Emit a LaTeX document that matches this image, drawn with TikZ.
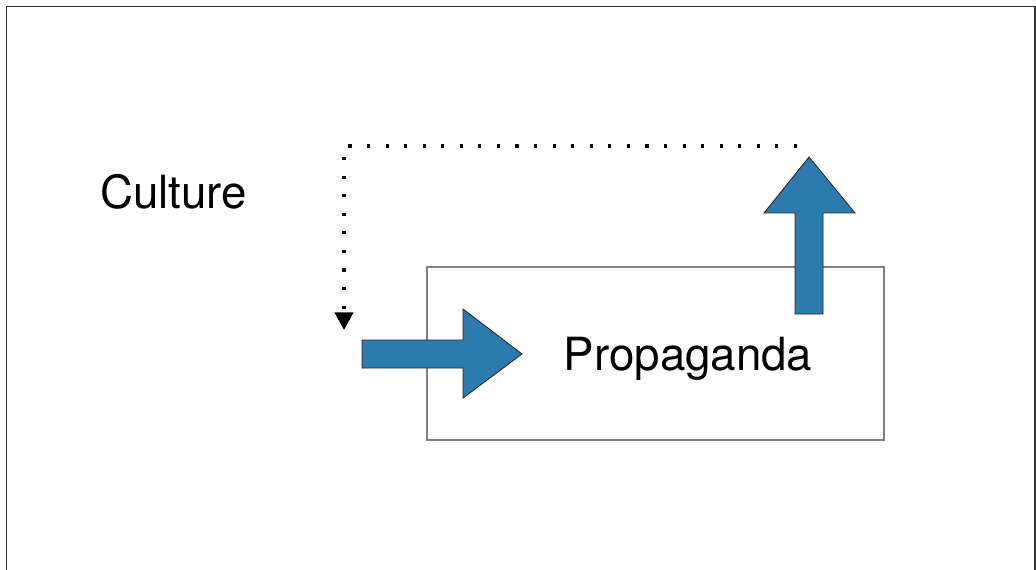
\documentclass[tikz,border=0pt]{standalone}
\usepackage{fontspec}
\setmainfont{TeX Gyre Heros}
\usetikzlibrary{arrows.meta}
\definecolor{arrowblue}{RGB}{45,122,175}
\begin{document}
\begin{tikzpicture}[x=0.025cm, y=-0.025cm,
	bigarrow/.style={fill=arrowblue, draw=black!85, line width=0.6pt, line join=miter},
	loopline/.style={line width=2.2pt, line cap=butt, dash pattern=on 2.2pt off 11pt, -{Triangle[length=12.5pt, width=13pt]}},
	word/.style={font=\fontsize{32.5pt}{38pt}\selectfont, inner sep=0pt, anchor=base}]
	\useasboundingbox (0,0) rectangle (1036,570);
	% frame
	\draw[black!80, line width=1.4pt] (6.5,570) -- (6.5,6.5) -- (1035,6.5) -- (1035,570);
	\node (culture) at (173.5, 208)	[word]	{Culture};
	\node (box) at (655.5, 353.5)	[draw=black!50, line width=1.4pt, minimum width=11.43cm, minimum height=4.33cm]	{};
	\node (prop) at (688, 370)	[word]	{Propaganda};
	\draw[bigarrow] (362,340) -- (463,340) -- (463,309) -- (522,354) -- (463,398) -- (463,368) -- (362,368) -- cycle;
	\draw[bigarrow] (795,314) -- (795,213) -- (764,213) -- (809,157) -- (855,213) -- (823,213) -- (823,314) -- cycle;
	\coordinate (loopstart) at (797,146);
	\coordinate (loopend) at (344,330);
	\draw[loopline] (loopstart) -| (loopend);
\end{tikzpicture}
\end{document}
